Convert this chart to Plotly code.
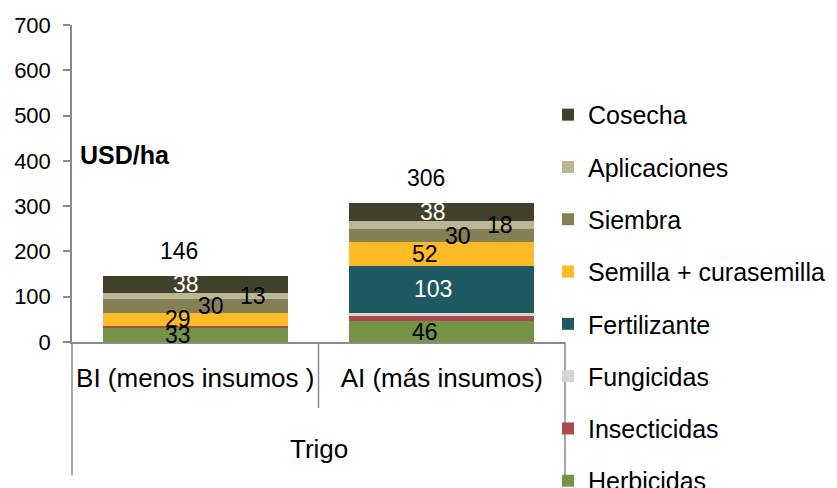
import plotly.graph_objects as go

categories = ["BI (menos insumos )", "AI (más insumos)"]
group_label = "Trigo"

series_names = ["Herbicidas", "Insecticidas", "Fungicidas", "Fertilizante",
                "Semilla + curasemilla", "Siembra", "Aplicaciones", "Cosecha"]
herbicidas = [33, 46]
insecticidas = [3, 11]
fungicidas = [0, 8]
fertilizante = [0, 103]
semilla = [29, 52]
siembra = [30, 30]
aplicaciones = [13, 18]
cosecha = [38, 38]
totals = [146, 306]

values = [herbicidas, insecticidas, fungicidas, fertilizante,
          semilla, siembra, aplicaciones, cosecha]

colors = {
    "Herbicidas": "#749346",
    "Insecticidas": "#A94B48",
    "Fungicidas": "#D4D4D4",
    "Fertilizante": "#1F5A63",
    "Semilla + curasemilla": "#FDBB27",
    "Siembra": "#857F56",
    "Aplicaciones": "#BBB796",
    "Cosecha": "#41402A",
}
# label style per series: (show, font colour, x shift px)
label_style = {
    "Herbicidas": (True, "black", -17),
    "Insecticidas": (False, "black", 0),
    "Fungicidas": (False, "black", 0),
    "Fertilizante": (True, "white", -9),
    "Semilla + curasemilla": (True, "black", -17),
    "Siembra": (True, "black", 16),
    "Aplicaciones": (True, "black", 58),
    "Cosecha": (True, "white", -9),
}

FONT = "Liberation Sans, Arial, sans-serif"
AXIS = "#8A8A8A"

fig = go.Figure()
n = len(series_names)
for k, (name, vals) in enumerate(zip(series_names, values)):
    fig.add_trace(go.Bar(
        name=name, x=categories, y=vals,
        marker=dict(color=colors[name], line=dict(width=0)),
        legendgroup=name, legendrank=n - k, hoverinfo="skip",
    ))

annotations = []
base = [0] * len(categories)
for name, vals in zip(series_names, values):
    show, fc, xs = label_style[name]
    for i, v in enumerate(vals):
        if show and v > 0:
            annotations.append(dict(
                x=categories[i], y=base[i] + v / 2, xref="x", yref="y",
                text=str(v), showarrow=False, xshift=xs,
                font=dict(size=23, color=fc, family=FONT),
            ))
        base[i] += v
for i, t in enumerate(totals):
    annotations.append(dict(
        x=categories[i], y=t, xref="x", yref="y", text=str(t),
        showarrow=False, xshift=-16, yshift=25,
        font=dict(size=23, color="black", family=FONT),
    ))
annotations.append(dict(
    x=0.5, y=-0.337, xref="paper", yref="paper", text=group_label,
    showarrow=False, yanchor="middle",
    font=dict(size=26, color="black", family=FONT),
))
annotations.append(dict(
    x=0.012, y=0.59, xref="paper", yref="paper", text="<b>USD/ha</b>",
    showarrow=False, xanchor="left", yanchor="middle",
    font=dict(size=25, color="black", family=FONT),
))

shapes = [
    dict(type="line", xref="paper", yref="paper", x0=0, x1=0, y0=0, y1=-0.42,
         line=dict(color=AXIS, width=1.5)),
    dict(type="line", xref="paper", yref="paper", x0=0.5, x1=0.5, y0=0, y1=-0.208,
         line=dict(color=AXIS, width=1.5)),
    dict(type="line", xref="paper", yref="paper", x0=1, x1=1, y0=0, y1=-0.42,
         line=dict(color=AXIS, width=1.5)),
]

fig.update_layout(
    width=829, height=480,
    margin=dict(l=64, r=272, t=17, b=146, autoexpand=False),
    barmode="stack", bargap=0.25,
    plot_bgcolor="white", paper_bgcolor="white",
    font=dict(family=FONT, color="black"),
    annotations=annotations, shapes=shapes,
    legend=dict(
        x=0.9655, xanchor="left", y=0.789, yanchor="top",
        traceorder="grouped", tracegroupgap=16.8,
        font=dict(size=25, family=FONT, color="black"),
        bgcolor="rgba(0,0,0,0)", maxheight=1000,
    ),
    xaxis=dict(
        type="category", showline=True, linecolor=AXIS, linewidth=1.5,
        ticks="", showgrid=False, tickfont=dict(size=26, family=FONT),
        ticklabelstandoff=12,
    ),
    yaxis=dict(
        range=[0, 700], dtick=100, showline=True, linecolor=AXIS, linewidth=1.5,
        ticks="outside", ticklen=7, tickcolor=AXIS, tickwidth=1.5,
        showgrid=False, zeroline=False, tickfont=dict(size=22, family=FONT),
        ticklabelstandoff=8,
    ),
)

fig.write_html("out.html")
